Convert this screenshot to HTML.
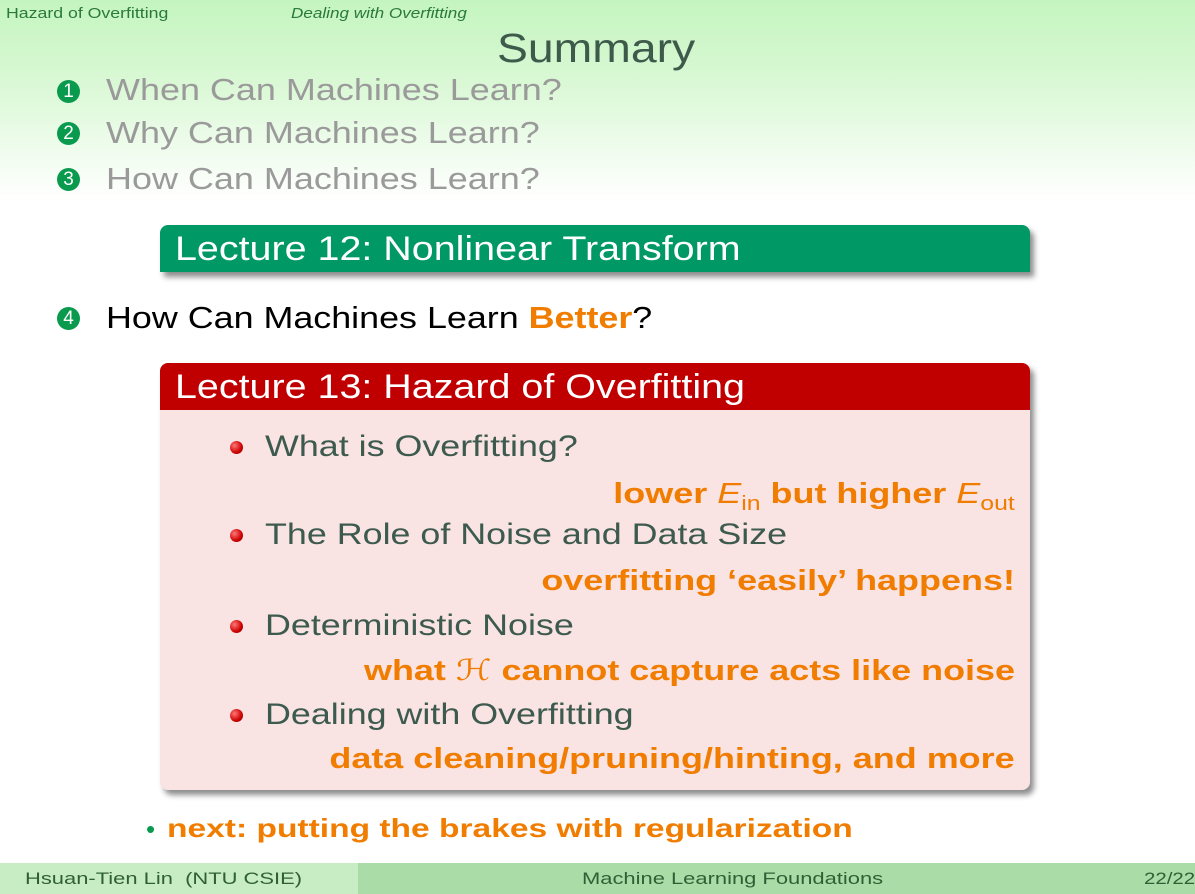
<!DOCTYPE html>
<html><head><meta charset="utf-8"><style>
body{margin:0;width:1195px;height:894px;overflow:hidden;font-family:"Liberation Sans",sans-serif;position:relative;background:linear-gradient(#c4f5bf 0px,#d9f8d4 80px,#ffffff 200px,#fff 894px);}
.a{position:absolute;white-space:nowrap;line-height:1;transform-origin:left center;}
.num{position:absolute;width:23px;height:23px;border-radius:50%;background:#0a9a4e;color:#fff;font-size:19px;line-height:23px;text-align:center;}
.gr{color:#9a9a9a;font-size:31px;transform:scaleX(1.16);}
.box{position:absolute;left:160px;width:870px;border-radius:8px;box-shadow:4px 5px 6px rgba(0,0,0,0.45);}
.dot{position:absolute;width:13px;height:13px;border-radius:50%;background:radial-gradient(circle at 35% 35%,#f77,#c00 60%,#700);}
.bt{color:#3d5a4f;font-size:30px;transform:scaleX(1.195);}
.or{color:#f07c00;font-size:29px;font-weight:bold;right:180px;transform-origin:right center;transform:scaleX(1.24);}
</style></head><body>
<div class="a" style="left:6px;top:6px;font-size:15px;color:#2a7a3a;transform:scaleX(1.18)">Hazard of Overfitting</div>
<div class="a" style="left:291px;top:6px;font-size:15px;color:#2a7a3a;font-style:italic;transform:scaleX(1.14)">Dealing with Overfitting</div>
<div class="a" style="left:497px;top:28px;font-size:41px;color:#3d5a4a;transform:scaleX(1.13)">Summary</div>

<div class="num" style="left:57px;top:80px">1</div>
<div class="a gr" style="left:106px;top:74px">When Can Machines Learn?</div>
<div class="num" style="left:57px;top:122px">2</div>
<div class="a gr" style="left:106px;top:117px">Why Can Machines Learn?</div>
<div class="num" style="left:57px;top:168px">3</div>
<div class="a gr" style="left:106px;top:163px">How Can Machines Learn?</div>

<div class="box" style="top:225px;height:47px;background:#009966;border-radius:8px 8px 0 0"></div>
<div class="a" style="left:175px;top:232px;font-size:34px;color:#fff;transform:scaleX(1.16)">Lecture 12: Nonlinear Transform</div>

<div class="num" style="left:57px;top:307px">4</div>
<div class="a" style="left:106px;top:302px;font-size:31px;color:#000;transform:scaleX(1.157)">How Can Machines Learn <b style="color:#f07c00">Better</b>?</div>

<div class="box" style="top:363px;height:427px;background:#fae3e3;overflow:hidden"><div style="height:47px;background:#c00000"></div></div>
<div class="a" style="left:175px;top:370px;font-size:34px;color:#fff;transform:scaleX(1.16)">Lecture 13: Hazard of Overfitting</div>

<div class="dot" style="left:230px;top:441px"></div>
<div class="a bt" style="left:265px;top:432px">What is Overfitting?</div>
<div class="a or" style="top:480px">lower <i style="font-weight:normal">E</i><sub style="font-size:20px;font-weight:normal">in</sub> but higher <i style="font-weight:normal">E</i><sub style="font-size:20px;font-weight:normal">out</sub></div>
<div class="dot" style="left:230px;top:529px"></div>
<div class="a bt" style="left:265px;top:520px">The Role of Noise and Data Size</div>
<div class="a or" style="top:567px">overfitting ‘easily’ happens!</div>
<div class="dot" style="left:230px;top:620px"></div>
<div class="a bt" style="left:265px;top:611px">Deterministic Noise</div>
<div class="a or" style="top:656px">what <span style="font-family:'DejaVu Sans',serif;font-weight:normal">ℋ</span> cannot capture acts like noise</div>
<div class="dot" style="left:230px;top:709px"></div>
<div class="a bt" style="left:265px;top:700px">Dealing with Overfitting</div>
<div class="a or" style="top:745px">data cleaning/pruning/hinting, and more</div>

<div class="a" style="left:146px;top:816px;font-size:26px;color:#0a9a4e">•</div>
<div class="a" style="left:167px;top:815px;font-size:26px;color:#f07c00;font-weight:bold;transform:scaleX(1.29)">next: putting the brakes with regularization</div>

<div class="a" style="left:0;top:863px;width:358px;height:31px;background:#c8ecc4"></div>
<div class="a" style="left:358px;top:863px;width:837px;height:31px;background:#a9dca6"></div>
<div class="a" style="left:25px;top:870px;font-size:17px;color:#2f5f35;transform:scaleX(1.29)">Hsuan-Tien Lin &nbsp;(NTU CSIE)</div>
<div class="a" style="left:582px;top:870px;font-size:17px;color:#2f5f35;transform:scaleX(1.29)">Machine Learning Foundations</div>
<div class="a" style="left:1144px;top:870px;font-size:17px;color:#2f5f35;transform:scaleX(1.2)">22/22</div>
</body></html>
